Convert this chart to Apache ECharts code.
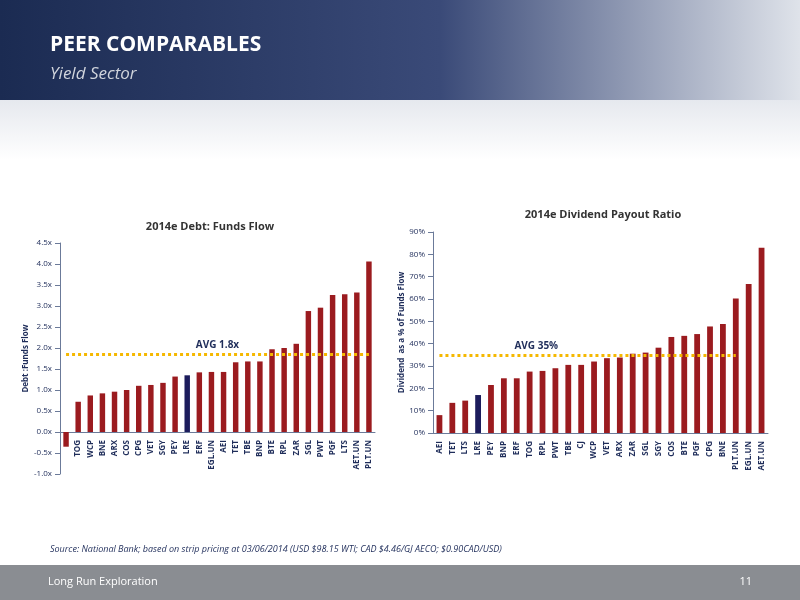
<!DOCTYPE html>
<html><head><meta charset="utf-8">
<script src="https://cdn.jsdelivr.net/npm/echarts@6/dist/echarts.min.js"></script>
<style>body{margin:0;background:#fff}#c{width:800px;height:600px}</style>
</head><body><div id="c"></div>
<script>
const debtCats = ['CJ','TOG','WCP','BNE','ARX','COS','CPG','VET','SGY','PEY','LRE','ERF','EGL.UN','AEI','TET','TBE','BNP','BTE','RPL','ZAR','SGL','PWT','PGF','LTS','AET.UN','PLT.UN'];
const debtVals = [-0.35,0.72,0.87,0.92,0.96,1.0,1.1,1.12,1.17,1.32,1.35,1.42,1.43,1.43,1.66,1.68,1.68,1.97,2.0,2.1,2.88,2.96,3.26,3.28,3.32,4.06];
const debtAvg = 1.85;
const divCats = ['AEI','TET','LTS','LRE','PEY','BNP','ERF','TOG','RPL','PWT','TBE','CJ','WCP','VET','ARX','ZAR','SGL','SGY','COS','BTE','PGF','CPG','BNE','PLT.UN','EGL.UN','AET.UN'];
const divVals = [8,13.5,14.5,17,21.5,24.5,24.5,27.5,27.8,29,30.5,30.5,32,33.5,33.8,35.5,36,38.2,43,43.5,44.3,47.7,48.8,60.2,66.7,83];
const divAvg = 35;
const highlight = 'LRE';

const RED = '#9b1b1f', NAVY = '#1c1c5c', TXT = '#1f2d5a';
const chart = echarts.init(document.getElementById('c'));
const font = 'Open Sans';
function bars(cats, vals) {
  return vals.map((v, i) => ({ value: v, itemStyle: { color: cats[i] === highlight ? NAVY : RED } }));
}
const axisLab = { color: TXT, fontSize: 8, fontFamily: font };
chart.setOption({
  textStyle: { fontFamily: font },
  title: [
    { text: '2014e Debt: Funds Flow', left: 205, top: 216, textAlign: 'center', textStyle: { fontSize: 11, color: '#333', fontWeight: 'bold' } },
    { text: '2014e Dividend Payout Ratio', left: 598, top: 204, textAlign: 'center', textStyle: { fontSize: 11, color: '#333', fontWeight: 'bold' } },
  ],
  graphic: [
    { type: 'rect', shape: { x: 0, y: 0, width: 800, height: 160 }, z: -1,
      style: { fill: new echarts.graphic.LinearGradient(0, 0, 0, 1, [{ offset: 0, color: 'rgba(255,255,255,0)' }, { offset: 0.6, color: '#e4e7ed' }, { offset: 1, color: '#ffffff' }]) } },
    { type: 'rect', shape: { x: 0, y: 0, width: 800, height: 100 }, z: -1,
      style: { fill: new echarts.graphic.LinearGradient(0, 0, 1, 0, [{ offset: 0, color: '#1b2b52' }, { offset: 0.55, color: '#3a4a78' }, { offset: 1, color: '#dfe3ea' }]) } },
    { type: 'text', left: 50, top: 35, style: { text: 'PEER COMPARABLES', fill: '#fff', font: 'bold 21px "Open Sans"' } },
    { type: 'text', left: 50, top: 66, style: { text: 'Yield Sector', fill: '#d0d4dc', font: 'italic 17px "Open Sans"' } },
    { type: 'text', left: 50, top: 545, style: { text: 'Source: National Bank; based on strip pricing at 03/06/2014 (USD $98.15 WTI; CAD $4.46/GJ AECO; $0.90CAD/USD)', fill: '#1f2d5a', font: 'italic 9px "Open Sans"' } },
    { type: 'rect', shape: { x: 0, y: 565, width: 800, height: 35 }, z: -1, style: { fill: '#8a8d92' } },
    { type: 'text', left: 48, top: 576, style: { text: 'Long Run Exploration', fill: '#fff', font: '11px "Open Sans"' } },
    { type: 'text', right: 48, top: 576, style: { text: '11', fill: '#fff', font: '11px "Open Sans"' } },
  ],
  grid: [
    { left: 60, top: 243, width: 315, height: 231 },
    { left: 433, top: 232, width: 335, height: 201 },
  ],
  xAxis: [
    { gridIndex: 0, type: 'category', data: debtCats, axisTick: { show: false }, offset: -42,
      axisLine: { onZero: false, lineStyle: { color: '#6b7a99' } },
      axisLabel: { ...axisLab, rotate: 90, interval: 0, fontWeight: 'bold', formatter: v => v === 'CJ' ? '' : v } },
    { gridIndex: 1, type: 'category', data: divCats, axisTick: { show: false },
      axisLine: { lineStyle: { color: '#6b7a99' } },
      axisLabel: { ...axisLab, rotate: 90, interval: 0, fontWeight: 'bold' } },
  ],
  yAxis: [
    { gridIndex: 0, type: 'value', min: -1, max: 4.5, interval: 0.5, splitLine: { show: false },
      axisLine: { show: true, lineStyle: { color: '#6b7a99' } }, axisTick: { show: true },
      axisLabel: { ...axisLab, formatter: v => v.toFixed(1) + 'x' },
      name: 'Debt :Funds Flow', nameLocation: 'middle', nameGap: 30,
      nameTextStyle: { color: TXT, fontSize: 8, fontWeight: 'bold' } },
    { gridIndex: 1, type: 'value', min: 0, max: 90, interval: 10, splitLine: { show: false },
      axisLine: { show: true, lineStyle: { color: '#6b7a99' } }, axisTick: { show: true },
      axisLabel: { ...axisLab, formatter: v => v + '%' },
      name: 'Dividend  as a % of Funds Flow', nameLocation: 'middle', nameGap: 25,
      nameTextStyle: { color: TXT, fontSize: 8, fontWeight: 'bold' } },
  ],
  series: [
    { type: 'bar', xAxisIndex: 0, yAxisIndex: 0, barWidth: '45%', data: bars(debtCats, debtVals),
      markLine: { silent: true, symbol: 'none',
        lineStyle: { color: '#f5b800', type: 'dotted', width: 3 },
        label: { position: 'middle', formatter: 'AVG 1.8x', color: TXT, fontWeight: 'bold', fontSize: 10, distance: 4 },
        data: [[{ coord: [0, debtAvg] }, { coord: [25, debtAvg] }]] } },
    { type: 'bar', xAxisIndex: 1, yAxisIndex: 1, barWidth: '45%', data: bars(divCats, divVals),
      markLine: { silent: true, symbol: 'none',
        lineStyle: { color: '#f5b800', type: 'dotted', width: 3 },
        label: { position: 'insideStartTop', formatter: 'AVG 35%', color: TXT, fontWeight: 'bold', fontSize: 10, distance: [75, 4] },
        data: [[{ coord: [0, divAvg] }, { coord: [23, divAvg] }]] } },
  ],
});
</script></body></html>
